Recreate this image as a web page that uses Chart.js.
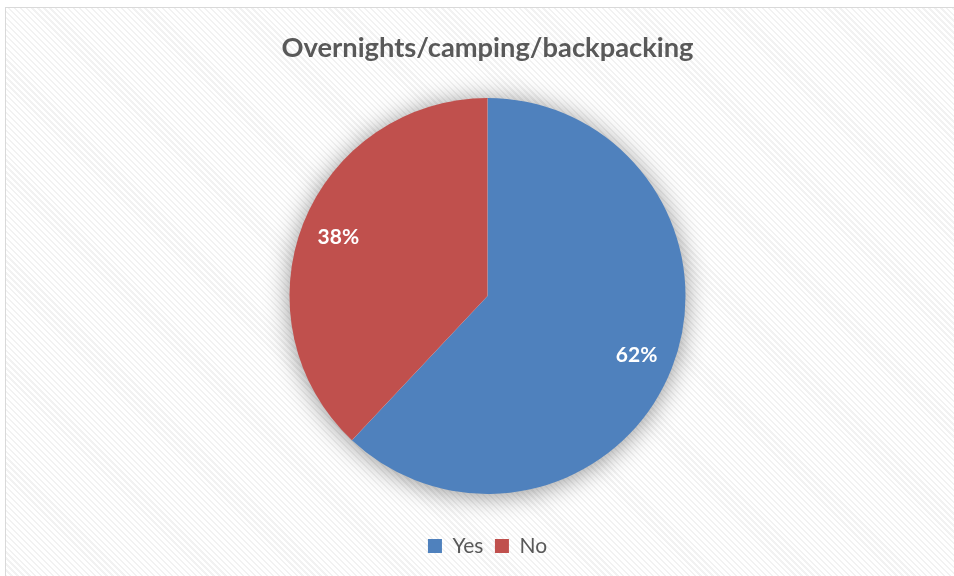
<!DOCTYPE html>
<html>
<head>
<meta charset="utf-8">
<script src="https://cdn.jsdelivr.net/npm/chart.js@4.4.1/dist/chart.umd.min.js"></script>
<style>
    html, body { margin: 0; padding: 0; background: #fff; overflow: hidden; }
    /* marco del gráfico: solo se ven los bordes superior e izquierdo */
    #frame {
        position: absolute; left: 5px; top: 7px; width: 963px; height: 569px;
        border-top: 1px solid #d9d9d9; border-left: 1px solid #d9d9d9;
        background: repeating-linear-gradient(45deg, #f2f2f2 0px, #f2f2f2 1.6px, #ffffff 1.6px, #ffffff 4.2px);
    }
    #wrap { position: absolute; left: 0; top: 0; width: 963px; height: 569px; }
</style>
</head>
<body>
<div id="frame"><div id="wrap"><canvas id="pie"></canvas></div></div>
<script>
    // Datos del gráfico
    const categories = ['Yes', 'No'];
    const values = [62, 38];
    const colors = ['#4f81bd', '#c0504d'];

    const FONT = 'Lato, "Open Sans", sans-serif';

    // Sombra suave detrás del círculo completo
    const pieShadow = {
        id: 'pieShadow',
        beforeDatasetsDraw(chart) {
            const arc = chart.getDatasetMeta(0).data[0];
            if (!arc) return;
            const ctx = chart.ctx;
            ctx.save();
            ctx.shadowColor = 'rgba(0,0,0,0.45)';
            ctx.shadowBlur = 26;
            ctx.shadowOffsetY = 2;
            ctx.fillStyle = '#ffffff';
            ctx.beginPath();
            ctx.arc(arc.x, arc.y, arc.outerRadius - 1, 0, Math.PI * 2);
            ctx.fill();
            ctx.restore();
        }
    };

    // Etiquetas de porcentaje dentro de cada porción
    const pctLabels = {
        id: 'pctLabels',
        afterDatasetsDraw(chart) {
            const ctx = chart.ctx;
            const meta = chart.getDatasetMeta(0);
            ctx.save();
            ctx.font = 'bold 21px ' + FONT;
            ctx.fillStyle = '#ffffff';
            ctx.textAlign = 'center';
            ctx.textBaseline = 'middle';
            meta.data.forEach((arc, i) => {
                const mid = (arc.startAngle + arc.endAngle) / 2;
                const r = arc.outerRadius * 0.81;
                ctx.fillText(values[i] + '%', arc.x + Math.cos(mid) * r, arc.y + Math.sin(mid) * r);
            });
            ctx.restore();
        }
    };

    new Chart(document.getElementById('pie'), {
        type: 'pie',
        data: {
            labels: categories,
            datasets: [{
                data: values,
                backgroundColor: colors,
                borderWidth: 0,
                radius: 198
            }]
        },
        options: {
            responsive: true,
            maintainAspectRatio: false,
            animation: false,
            events: [],
            layout: { padding: { top: 0, left: 0, right: 0, bottom: 10.5 } },
            plugins: {
                title: {
                    display: true,
                    text: 'Overnights/camping/backpacking',
                    color: '#595959',
                    font: { family: FONT, size: 27.3, weight: 'bold', lineHeight: 1.2 },
                    padding: { top: 23.6, bottom: 3.6 }
                },
                legend: {
                    position: 'bottom',
                    labels: {
                        color: '#595959',
                        font: { family: FONT, size: 21 },
                        boxWidth: 14,
                        boxHeight: 14,
                        padding: 11.5
                    }
                },
                tooltip: { enabled: false }
            }
        },
        plugins: [pieShadow, pctLabels]
    });
</script>
</body>
</html>
